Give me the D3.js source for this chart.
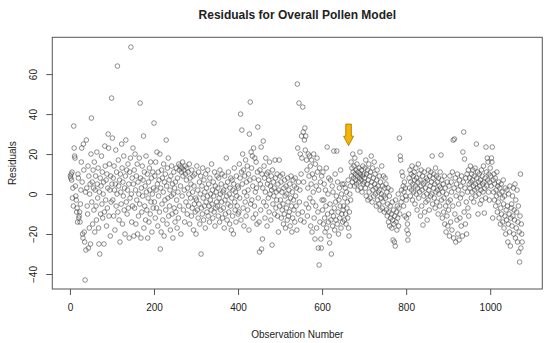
<!DOCTYPE html>
<html>
<head>
<meta charset="utf-8">
<script src="https://cdn.jsdelivr.net/npm/d3@7"></script>
<style>
  body { margin: 0; background: #fff; }
  #chart { width: 550px; height: 343px; }
  text { font-family: "Liberation Sans", Arial, sans-serif; fill: #222; }
</style>
</head>
<body>
<div id="chart"></div>
<script>
// residuals, observation number = position + 1
const residuals0to250 = [
  9, 8, 10, 7, 11, -2, 3, -6, 34, 23, 19, 18, 4, -1, -3, -9, -7, -14, 10, 8, -12, -11, -9, -14, -5, 2, 16, 23, 6, -20, -22, 25, 12, -19, -24, -43, 1, -28, 27, 3, -6, -10, 14, -27, 9, -17, 0, 5, -25, 20,
  38, -4, 6, -15, 12, 3, -8, 16, -19, 2, 9, -6, -13, 21, 5, -2, 13, -17, -25, 1, -30, 8, -10, 4, 19, -5, 11, -12, 0, 6, -25, -9, 24, 14, -3, 7, -16, 10, -7, 3, 30, 23, -11, 15, 2, -21, 9, -4, 48, 5,
  28, -3, 8, -11, 14, 2, -18, 5, 22, -6, 11, 0, 64, -9, 17, 4, -13, 7, -24, 10, 1, -5, 25, 13, -15, 6, -1, 19, -8, 3, -20, 9, 27, -4, 12, -10, 2, 15, -7, 5, -22, 11, -2, 18, 73.5, 0, -14, 8, -6, 23,
  5, -21, 12, -7, 20, 2, -15, 9, -3, 15, -20, 6, -11, 0, 18, -5, 45.5, 8, -22, 3, -9, 14, -1, 7, 29, -17, 11, -6, 4, -13, 19, 1, -8, 10, -22, -2, 6, -14, 13, 2, -10, 16, -4, 8, -19, 0, 11, -7, 3, 35.5,
  -4, 9, -12, 16, 2, -7, 21, 5, -16, 11, -1, 7, -9, 20, -27.5, 3, -19, 12, -5, 8, -13, 1, 15, -21, 6, -3, 10, -8, 27, 4, -15, 13, -2, 18, -11, 7, -6, 2, -18, 9, -1, 14, -10, 5, -22, 0, 11, -7, 3, -14
];
const residuals250to500 = [
  6, -9, 13, -3, -17, 8, 1, -12, 15, 12, -6, 14, 4, -20, 11, 13, -1, 16, 9, -8, 12, 2, -14, 14, 10, -4, 7, 13, -10, 3, 11, -6, 0, 15, -15, 8, -2, 5, -11, 12, -7, 1, 9, -18, 4, -5, 10, -9, -2, -20,
  -3, 14, -8, 2, -12, 11, -5, 6, -15, 0, 9, -30, -7, 4, -10, 13, -2, -13, 7, -6, 1, -17, 10, -4, 3, -9, -1, 12, -11, 5, -6, -14, 8, -3, 0, -8, 15, -5, 2, -12, 6, -1, -9, 11, -16, 4, -7, 1, -4, 9,
  -6, 3, -11, 8, -2, -14, 12, 0, -8, 5, -4, 10, -12, 1, -7, 2, -17, 9, -3, -10, 4, 18, -1, -13, 6, -5, 11, -9, 0, -15, 3, -6, 8, -18, -2, 7, -11, 2, -20, 5, 13, -4, -8, 1, -14, 9, -1, -6, 4, -10,
  3, -9, 15, -2, 8, 40, -13, 11, 32, 5, 20, -7, 12, -16, 1, 9, -4, 17, -11, 6, -1, 14, -8, 2, 10, -18, 30, 7, 46, -5, 21, 13, -3, 19, 4, -12, 23, 8, -6, 18, 1, -10, 16, 3, -15, 11, 33.5, -2, 7, -14,
  -29, 12, 5, -8, 23.5, -27.5, 10, -22.5, 3, 26.5, -4, 14, 8, -12, 1, 18, -6, 10, -16, 5, 11, -2, 7, -9, 16, 0, 4, -13, 9, 2, -25.5, 12, -5, 6, -1, 3, -10, 17, 8, -7, 1, -3, 10, -11, 5, -19, 2, 17, -6, 9
];
const residuals500to750 = [
  -3, 6, -12, 1, -8, 10, -5, -15, 3, -10, 7, -1, -17, 4, -7, 0, -13, 8, -4, -11, 2, -9, 5, -16, -2, 9, -6, -19, 1, -12, 7, -3, -8, 4, -14, 8, -1, -6, 3, -18, 55, 23, -10, 6, 45.5, -4, 2, 20, -13, 10,
  29, 18, -9, 43.5, 31, 6, -14, 27, 33, 22, 29, -5, 17, 12, -11, 3, 20, -7, 9, 19, -2, 14, -16, 5, 17, -19, 10, -4, 1, 20, -12, 8, -22.5, 15, -6, 4, -17, 18, 11, -9, -27, 2, -35.5, 13, -14, 6, -22.5, -27, 9, -3,
  -8, 11, -15, -3, 5, -12, -19, 2, -6, 13, -17, 23.5, -10, 0, -14, 8, -21, -24.5, -5, 7, -13, -30, -9, 4, -16, 1, -11, 21.5, -7, -18, 10, -4, -13, -1, 21.5, -15, 6, -9, -20, -3, 3, -12, -6, 12, -17, 0, -10, 5, -14, -8,
  -6, 5, -13, -2, 3, -10, -15, 1, -7, -4, -12, 7, -17, -21, -9, 0, 4, -3, 16, 9, 13, 6, 20, 11, 8, 14, 4, 18, 10, 7, 12, 5, 15, 9, 2, 11, 6, 13, 8, 21, 10, 3, 7, 12, 1, 9, 14, 5, 10, 6,
  8, 13, 3, 17, -1, 10, 5, 12, -3, 7, 15, 1, 9, -2, 11, 4, 19, 6, -4, 13, 2, 8, -1, 16, 5, 10, 0, 3, -6, 7, 12, -3, 4, 1, -5, 9, 2, -8, 6, -2, 0, 14, -7, 4, -4, 9, -1, -9, 3, 8
];
const residuals750to1000 = [
  -2, 5, -8, 1, -11, -5, 3, -14, -9, -1, -16, -6, -12, 2, -10, -17, -4, -13, -23, -8, -15, -24, -11, -26, -3, -14, -9, -18, -6, -12, 0, -16, -7, 28, -10, 19, 17, -4, 2, 11, -2, 9, 4, -6, 1, 6, -11, 3, -1, -3,
  -12, -18, -15, -23, -20, -10, 8, 3, 12, -1, 6, 10, 2, 14, -3, 5, 9, 1, 11, 7, -5, 4, 13, 0, 8, -8, 3, 6, 15, -2, 10, 1, 7, -11, 4, 12, -6, 2, 9, -15.5, 5, -1, 11, -9, 6, 3, -4, 8, 0, -13,
  7, -3, 12, 2, -8, 9, 4, -1, 11, 6, 0, 19, -5, 8, 3, 10, -2, 5, -7, 13, 1, 9, -4, 6, 2, -10, 8, 0, 4, -6, 11, 3, 19.5, -3, 7, -12, 1, 5, -9, -2, 9, -15, 3, -6, -19, 0, -11, 6, -16, -4,
  -8, 4, -21, 9, -3, -14, 6, 1, -18, 11, -6, 27, -22, 3, 27.5, -10, 8, -24, -1, 5, -13, 10, -20, 2, -5, -23, 7, -12, -2, 4, -16, 9, 0, -21, 21, 6, 31, -9, 17.5, 3, -15, 8, -4, -20, 10, 1, -7, 12, -11, 5,
  8, 3, 14, 6, -2, 10, 1, 7, 12, 4, -4, 9, 2, 13, 5, -1, 25, 8, 3, 11, -10, 6, 0, 10, 4, -5, 7, 2, 12, -3, 9, 5, 1, 14, 6, -9.5, 3, 8, -2, 23.5, 11, 4, 18, 7, 16, 1, 10, -3, 6, 13
];
const residuals1000plus = [
  9, 4, 18, 16, 23.5, -12, 7, 1, 10, -3, 5, 8, -6, 2, -1, 11, -9, 4, -4, 6, -12, 0, 3, -15, -7, 5, -10, 1, -2, -14, 7, -5, -17, -1, -11, 3, -20, -8, -13, 2, -6, -24, -15, 0, -10, -19, 4, -26, -12, -7,
  -5, -16, -1, -11, 3, -20, -8, -13, 5, -22, -3, -17, -9, 2, -24, -14, -6, -29, -19, -34, -11, 10, -27, -15, -20, -24
];

const xTicks = [0, 200, 400, 600, 800, 1000];
const yTicks = [-40, -20, 0, 20, 40, 60];
const xDomain = [-42, 1124];
const yDomain = [-47.5, 78.4];

const titleText = 'Residuals for Overall Pollen Model';
const xLabel = 'Observation Number';
const yLabel = 'Residuals';

// the marker drawn over the plot: observation and residual span
const arrowObs = 663;
const arrowFrom = 35;
const arrowTo = 24.2;

class ResidualPlot {
  constructor(node, options) {
    this.options = options || {};
    this.container = d3.select(node);
    this.setupVar();
    this.setupUtils();
    this.data = null;
  }

  setupVar() {
    this.width = 550;
    this.height = 343;
    this.box = { left: 52.3, right: 542.3, top: 37.3, bottom: 289 };
  }

  setupUtils() {
    this.x = d3.scaleLinear().domain(xDomain).range([this.box.left, this.box.right]);
    this.y = d3.scaleLinear().domain(yDomain).range([this.box.bottom, this.box.top]);
  }

  drawGraph() {
    const data = this.data;
    if (data == null) return;

    if (this.svg) {
      this.svg.remove();
    }

    this.svg = this.container.append('svg')
      .attr('width', this.width)
      .attr('height', this.height);

    this.svg.append('rect')
      .attr('width', this.width)
      .attr('height', this.height)
      .attr('fill', '#fff');

    // points
    this.svg.append('g')
      .attr('class', 'points')
      .selectAll('circle')
      .data(data)
      .enter()
      .append('circle')
      .attr('cx', (d) => this.x(d.obs))
      .attr('cy', (d) => this.y(d.value))
      .attr('r', 2.3)
      .attr('fill', 'none')
      .attr('stroke', '#444')
      .attr('stroke-width', 0.6);

    // frame
    this.svg.append('rect')
      .attr('x', this.box.left)
      .attr('y', this.box.top)
      .attr('width', this.box.right - this.box.left)
      .attr('height', this.box.bottom - this.box.top)
      .attr('fill', 'none')
      .attr('stroke', '#555')
      .attr('stroke-width', 1);

    const xAxis = d3.axisBottom(this.x)
      .tickValues(xTicks).tickFormat(d3.format('d')).tickSize(6).tickPadding(9);
    const gx = this.svg.append('g')
      .attr('transform', `translate(0,${this.box.bottom})`)
      .call(xAxis);

    const yAxis = d3.axisLeft(this.y)
      .tickValues(yTicks).tickFormat(d3.format('d')).tickSize(6);
    const gy = this.svg.append('g')
      .attr('transform', `translate(${this.box.left},0)`)
      .call(yAxis);

    [gx, gy].forEach((g) => {
      g.select('.domain').remove();
      g.selectAll('line').attr('stroke', '#555');
      g.selectAll('text')
        .attr('font-size', '10px')
        .attr('fill', '#222')
        .style('font-family', '"Liberation Sans", Arial, sans-serif');
    });

    gy.selectAll('text')
      .attr('x', 0)
      .attr('dy', '0.35em')
      .attr('text-anchor', 'middle')
      .attr('transform', 'translate(-19,0) rotate(-90)');

    const midX = (this.box.left + this.box.right) / 2;
    const midY = (this.box.top + this.box.bottom) / 2;

    this.svg.append('text')
      .attr('x', midX)
      .attr('y', 19)
      .attr('text-anchor', 'middle')
      .attr('font-size', '12px')
      .attr('font-weight', 'bold')
      .text(titleText);

    this.svg.append('text')
      .attr('x', midX)
      .attr('y', 337.5)
      .attr('text-anchor', 'middle')
      .attr('font-size', '10px')
      .text(xLabel);

    this.svg.append('text')
      .attr('transform', `translate(15.5,${midY}) rotate(-90)`)
      .attr('text-anchor', 'middle')
      .attr('font-size', '10px')
      .text(yLabel);

    this.drawArrow();
  }

  drawArrow() {
    const cx = this.x(arrowObs);
    const top = this.y(arrowFrom);
    const tip = this.y(arrowTo);
    const headH = 9.5;
    const shaft = 2.8;
    const head = 5;
    const path = d3.path();
    path.moveTo(cx - shaft, top);
    path.lineTo(cx + shaft, top);
    path.lineTo(cx + shaft, tip - headH);
    path.lineTo(cx + head, tip - headH);
    path.lineTo(cx, tip);
    path.lineTo(cx - head, tip - headH);
    path.lineTo(cx - shaft, tip - headH);
    path.closePath();
    this.svg.append('path')
      .attr('d', path.toString())
      .attr('fill', '#f7b500')
      .attr('stroke', '#a07400')
      .attr('stroke-width', 0.8);
  }
}

const residuals = [].concat(residuals0to250, residuals250to500, residuals500to750, residuals750to1000, residuals1000plus);
const plot = new ResidualPlot(document.getElementById('chart'));
plot.data = residuals.map((v, i) => ({ obs: i + 1, value: v }));
plot.drawGraph();
</script>
</body>
</html>
